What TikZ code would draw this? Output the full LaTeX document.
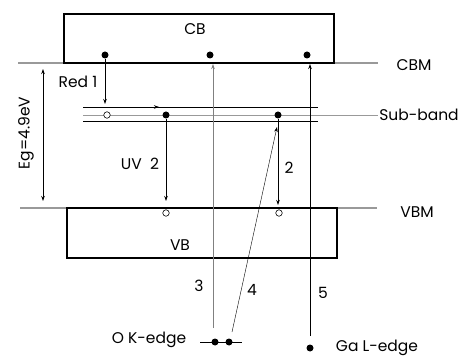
\documentclass[tikz,border=0pt]{standalone}
\usepackage{fontspec}
\setmainfont{Poppins}
\usetikzlibrary{arrows.meta}
\tikzset{
  lbl/.style={font=\fontsize{15.5}{17}\selectfont, inner sep=0pt},
  elec/.style={circle, fill, inner sep=0pt, minimum size=7pt},
  hole/.style={circle, draw, fill=white, inner sep=0pt, minimum size=6.5pt, line width=0.6pt},
  level/.style={gray!80, line width=1.2pt},
  trans/.style={->, line width=0.8pt},
}
\begin{document}
\begin{tikzpicture}[x=1pt, y=-1pt, >={Stealth[length=5pt,width=3.5pt]}]
 \useasboundingbox (0,0) rectangle (466,358);
 % band edges
 \draw[level] (18,63) -- (378,63);
 \draw[level] (20,208) -- (377,208);
 \draw[line width=1.6pt] (64,14) rectangle (334,63);
 \draw[line width=1.6pt] (67,208) rectangle (337,258);
 \node[lbl] (cb) at (195,29) {CB};
 \node[lbl] (vb) at (180,245) {VB};
 \node[lbl] (cbm) at (414,65) {CBM};
 \node[lbl] (vbm) at (417,212) {VBM};
 % sub-band
 \draw[line width=1pt] (83,108) -- (318,108);
 \draw[line width=1pt] (83,122) -- (318,122);
 \draw[level, line width=0.8pt] (83,115) -- (378,115);
 \node[lbl] (sub) at (419,115) {Sub-band};
 \draw[->, line width=0.6pt] (152,107) -- (159,107);
 % gap
 \coordinate (egTop) at (43,69);
 \coordinate (egBot) at (43,201);
 \draw[<->, line width=0.8pt] (egTop) -- (egBot);
 \node[lbl, rotate=90] (eg) at (26,133) {Eg=4.9eV};
 % carriers
 \node[elec] (cbA) at (105,55) {};
 \node[elec] (cbB) at (210,55) {};
 \node[elec] (cbC) at (307,55) {};
 \node[hole] (subH) at (107,115) {};
 \node[elec] (subA) at (166,115) {};
 \node[elec] (subB) at (278,115) {};
 \node[hole] (vbA) at (166,213) {};
 \node[hole] (vbB) at (279,213) {};
 \node[elec] (oA) at (215,342) {};
 \node[elec] (oB) at (229,342) {};
 \node[elec] (ga) at (310,348) {};
 % transitions
 \draw[trans] (cbA) -- (cbA |- 0,104);
 \node[lbl] (red) at (78,82) {Red 1};
 \draw[trans] (subA) -- (subA |- 0,201);
 \node[lbl] (uv) at (140,164) {UV\ \ 2};
 \draw[trans] (subB) -- (subB |- 0,205);
 \node[lbl] (two) at (289,168) {2};
 % x-ray edges
 \draw[line width=0.6pt] (200,342) -- (242,342);
 \node[lbl] (ok) at (149,340) {O K-edge};
 \node[lbl] (gal) at (377,348) {Ga L-edge};
 \coordinate (c3) at (213,328);
 \coordinate (c4) at (232,332);
 \coordinate (c5) at (310,336);
 \draw[->, gray, line width=0.8pt] (c3) -- (c3 |- 0,64);
 \draw[->, line width=0.4pt] (c4) -- (277,127);
 \draw[->, line width=1pt] (c5) -- (c5 |- 0,64);
 \node[lbl] (n3) at (199,286) {3};
 \node[lbl] (n4) at (252,290) {4};
 \node[lbl] (n5) at (323,293) {5};
\end{tikzpicture}
\end{document}
